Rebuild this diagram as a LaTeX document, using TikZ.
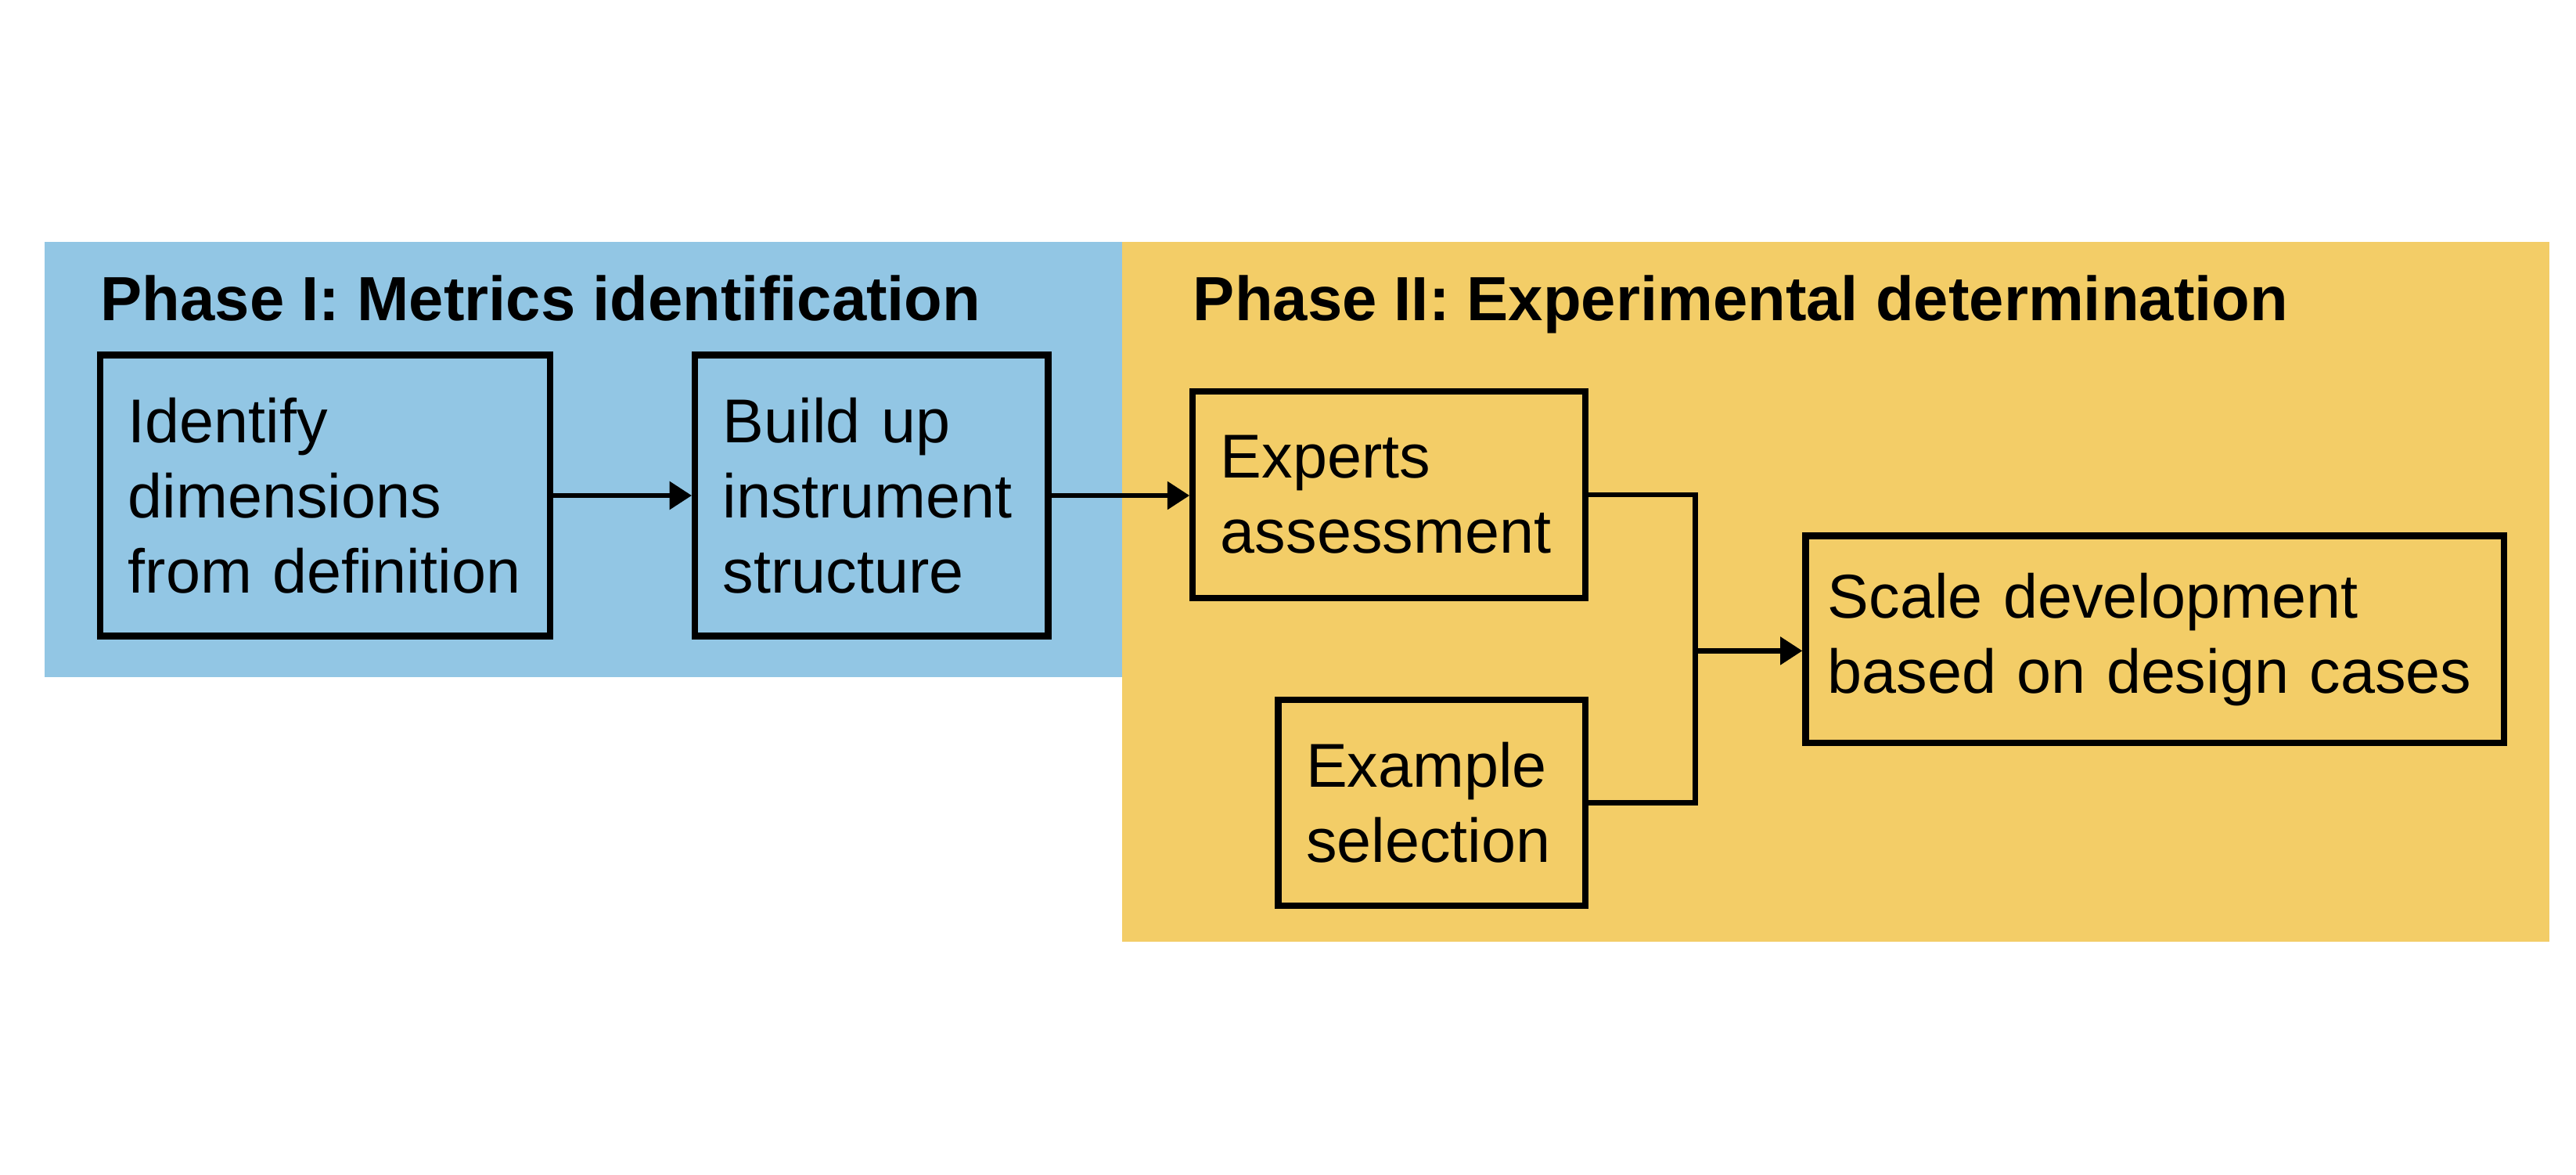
\documentclass[tikz,border=0pt]{standalone}
\usepackage{fontspec}
\setmainfont{Liberation Sans}
\usetikzlibrary{arrows.meta,calc}
\definecolor{phaseblue}{RGB}{146,198,228}
\definecolor{phaseorange}{RGB}{243,205,103}
\tikzset{stage/.style={draw, line width=2.2pt, align=left, inner xsep=0.34cm, inner ysep=0pt, font=\fontsize{21.45}{26}\selectfont},
	phasetitle/.style={anchor=base west, inner sep=0pt, font=\fontsize{21.6}{26}\selectfont\bfseries},
	link/.style={line width=1.8pt}}

\begin{document}
\begin{tikzpicture}[x=0.02cm, y=-0.02cm, >={Triangle[length=2.7mm, width=3.3mm]}]
	\useasboundingbox (0,0) rectangle (1568,714.46);
	% Phase backgrounds
	\fill[phaseblue] (27,147) rectangle (683,412);
	\fill[phaseorange] (683,147) rectangle (1552,573);
	\node[phasetitle] (titleI) at (61,195) {Phase I: Metrics identification};
	\node[phasetitle] (titleII) at (726,195) {Phase II: Experimental determination};
	
	% Phase I steps
	\node[stage, text width=4.8cm, minimum height=3.42cm] (identify) at (198,301.5) {Identify\\dimensions\\from definition};
	\node[stage, text width=3.62cm, minimum height=3.42cm] (build) at (530.5,301.5) {Build up\\instrument\\structure};
	
	% Phase II steps
	\node[stage, text width=4.1cm, minimum height=2.52cm] (experts) at (845.5,301) {Experts\\assessment};
	\node[stage, text width=3.06cm, minimum height=2.5cm] (example) at (871.5,488.5) {Example\\selection};
	\node[stage, text width=7.96cm, inner xsep=0.27cm, minimum height=2.52cm] (scale) at (1311.5,389) {Scale development\\based on design cases};
	\coordinate (merge) at (1032,396);
	
	% Connectors
	\draw[link, ->] (identify) -- (build);
	\draw[link, ->] (build.east) -- (build.east -| experts.west);
	\draw[link] (experts.east) -| (merge) |- (example.east);
	\draw[link, ->] (merge) -- (merge -| scale.west);
\end{tikzpicture}
\end{document}
